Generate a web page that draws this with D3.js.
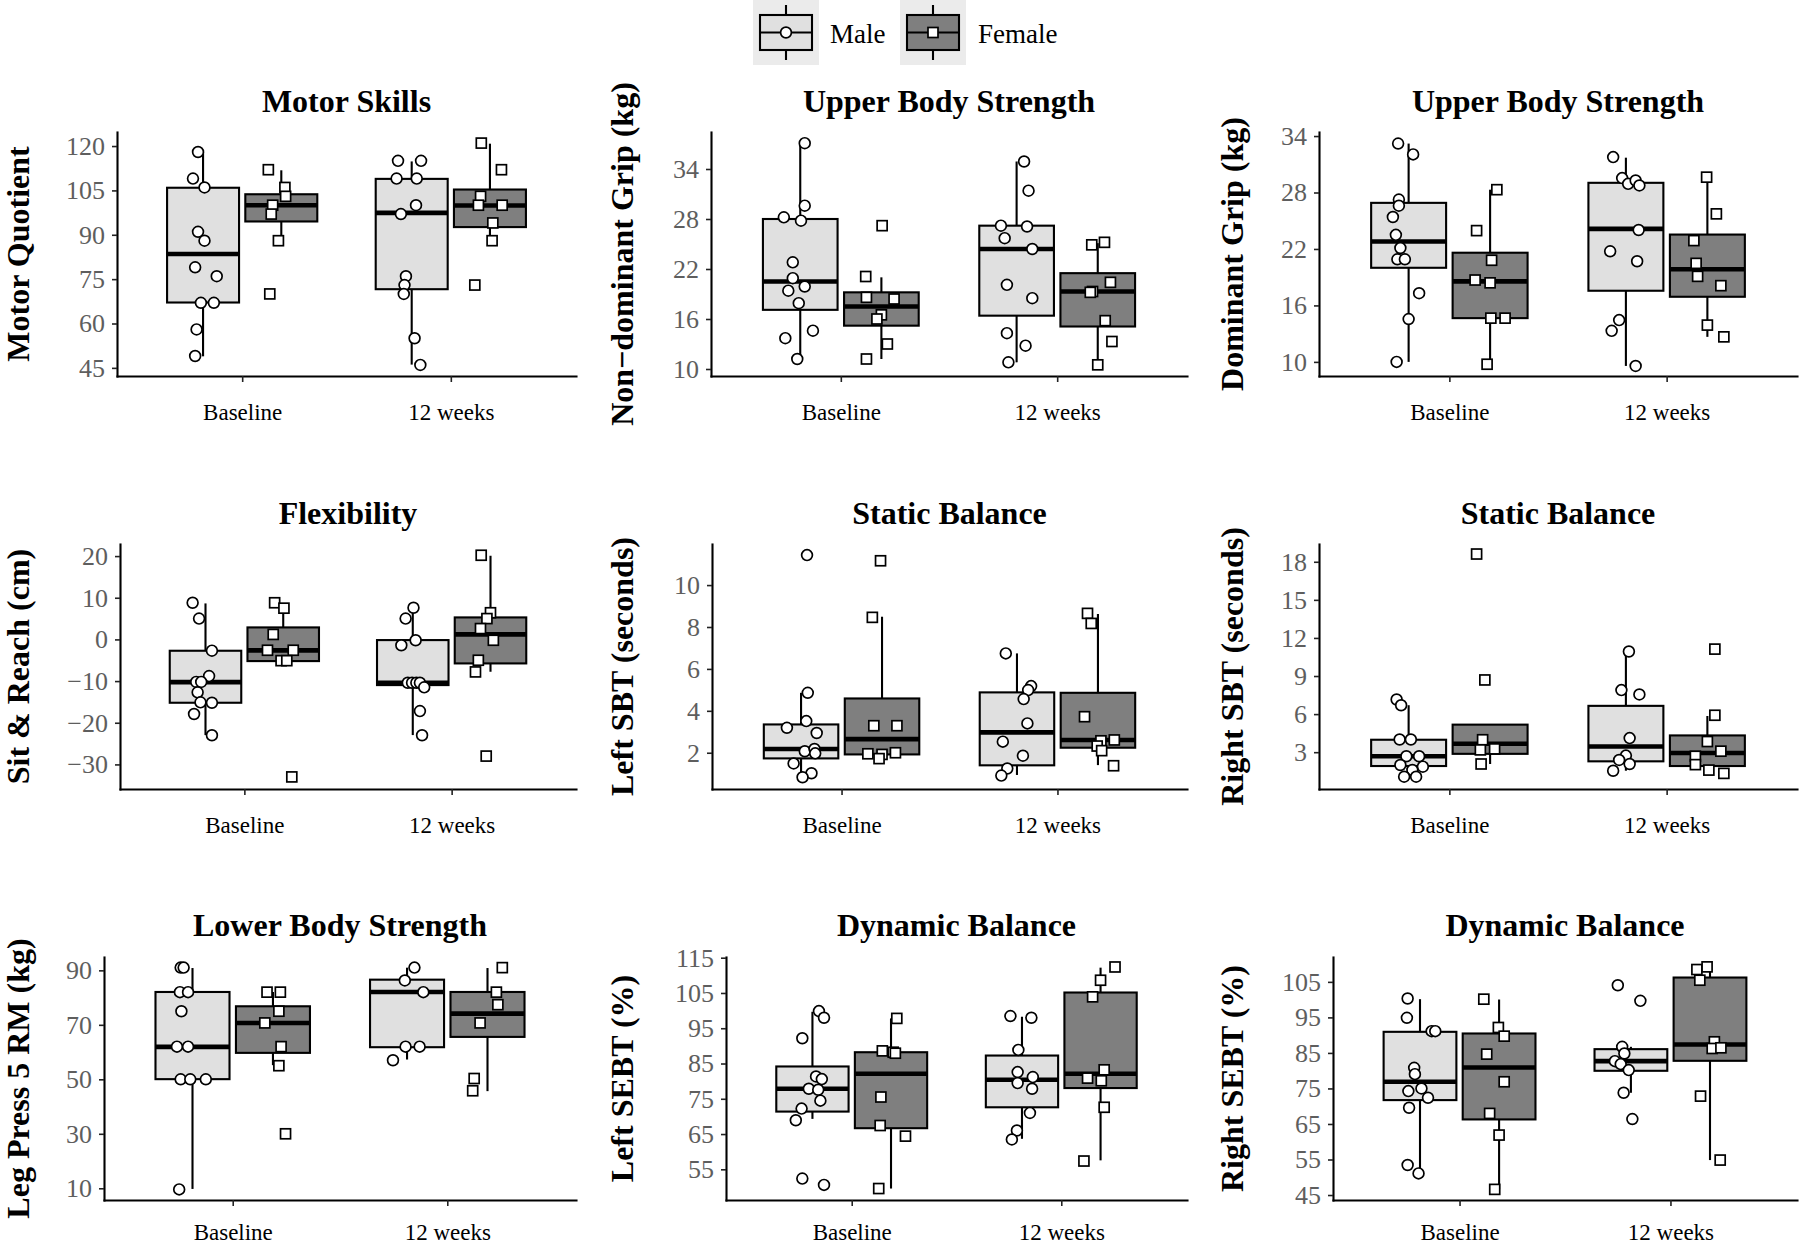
<!DOCTYPE html>
<html><head><meta charset="utf-8">
<script src="https://cdn.jsdelivr.net/npm/d3@7"></script>
<style>
body{margin:0;background:#fff}
svg{display:block}
text{font-family:"Liberation Serif","Times New Roman",serif}
</style>
</head><body><svg id="c" width="1800" height="1246"></svg>
<script>
// ---------- DATA ----------
const categories = ["Baseline", "12 weeks"];
const groups = ["Male", "Female"];
const panelTitles = ["Motor Skills","Upper Body Strength","Upper Body Strength","Flexibility","Static Balance","Static Balance","Lower Body Strength","Dynamic Balance","Dynamic Balance"];
const yLabels = ["Motor Quotient","Non\u2212dominant Grip (kg)","Dominant Grip (kg)","Sit & Reach (cm)","Left SBT (seconds)","Right SBT (seconds)","Leg Press 5 RM (kg)","Left SEBT (%)","Right SEBT (%)"];
const yDomains = [[42.25,124.75],[9.16,38.44],[8.5,34.43],[-35.9,22.9],[0.27,11.96],[0.1,19.4],[5.7,94.9],[46.3,115.2],[43.6,112]];
const yTicks = [[45,60,75,90,105,120],[10,16,22,28,34],[10,16,22,28,34],[-30,-20,-10,0,10,20],[2,4,6,8,10],[3,6,9,12,15,18],[10,30,50,70,90],[55,65,75,85,95,105,115],[45,55,65,75,85,95,105]];

// box stats per group [whiskerLow, Q1, median, Q3, whiskerHigh]; order: Male-Baseline, Female-Baseline, Male-12wk, Female-12wk
const motorBoxes = [[48.9,67.1,83.5,105.9,118],[88,94.5,100,103.7,111.8],[46.1,71.6,97.4,108.9,114.8],[88,92.6,99.9,105.3,120.8]];
const ndGripBoxes = [[11.2,17.1,20.5,28,37.1],[11.2,15.2,17.5,19.2,21],[10.8,16.4,24.4,27.2,34.9],[10.5,15.1,19.3,21.5,25.1]];
const dGripBoxes = [[10,20,22.8,26.9,33.2],[9.75,14.65,18.56,21.6,28.3],[9.57,17.56,24.13,29.03,31.7],[12.66,16.92,19.84,23.53,29.63]];
const flexBoxes = [[-22.96,-15.2,-10.24,-2.72,8.64],[-5.2,-5.2,-2.64,2.88,7.44],[-22.96,-10.96,-10.4,-0.16,7.6],[-7.76,-5.76,1.2,5.28,20.08]];
const lsbtBoxes = [[0.86,1.73,2.18,3.35,4.86],[1.68,1.92,2.65,4.59,8.49],[0.94,1.4,2.97,4.88,6.74],[1.41,2.24,2.61,4.86,8.62]];
const rsbtBoxes = [[0.96,1.91,2.68,3.98,6.7],[2.07,2.87,3.66,5.17,5.17],[1.54,2.28,3.45,6.65,10.93],[1.33,1.91,2.94,4.32,5.85]];
const legBoxes = [[9.76,50.06,61.9,82.06,90.85],[55.19,59.71,70.7,76.81,82.06],[57.27,61.79,82.06,86.58,90.98],[45.66,65.57,74.12,82.06,90.85]];
const lsebtBoxes = [[69.3,71.37,77.85,84.16,99.67],[49.55,66.66,82.09,88.2,97.79],[63.65,72.59,80.39,87.26,98.26],[57.54,78.04,82.09,105.13,112.18]];
const rsebtBoxes = [[51.09,71.72,76.88,90.94,100.13],[46.59,66.28,80.91,90.47,100.03],[73.78,79.97,82.69,86.06,86.72],[54.84,82.78,87.38,106.22,109.22]];

// individual points [value, jitter (fraction of box width)]; same group order
const motorPoints = [
 [[118,-.07],[109,-.14],[106,.02],[91,-.07],[88,.02],[79,-.11],[76,.19],[67,-.03],[67,.15],[58,-.09],[49,-.11]],
 [[112,-.18],[106,.05],[103,.06],[100,-.12],[97,-.14],[88,-.04],[70,-.16]],
 [[115,-.19],[115,.13],[109,-.21],[109,.07],[100,.06],[97,-.15],[76,-.08],[73,-.1],[70,-.11],[55,.04],[46,.12]],
 [[121,-.12],[112,.16],[103,-.13],[100,-.16],[100,.17],[94,.04],[88,.03],[73,-.21]]];
const ndGripPoints = [
 [[37.1,.06],[29.6,.06],[28.2,-.22],[27.8,.01],[22.8,-.1],[20.9,-.1],[19.9,.06],[19.4,-.16],[17.9,-.02],[14.6,.17],[13.7,-.2],[11.2,-.04]],
 [[27.2,.01],[21.1,-.21],[18.6,-.2],[18.4,.17],[16.5,0],[16,-.06],[13,.08],[11.2,-.2]],
 [[34.9,.1],[31.4,.16],[27.2,-.21],[27.1,.14],[25.7,-.16],[24.4,.21],[20.1,-.13],[18.5,.21],[14.3,-.13],[12.8,.12],[10.8,-.11]],
 [[24.9,-.08],[25.2,.09],[20.4,.17],[19.3,-.07],[19.2,-.1],[15.8,.1],[13.3,.19],[10.5,0]]];
const dGripPoints = [
 [[33.2,-.14],[32.05,.06],[27.25,-.13],[26.6,-.13],[25.4,-.21],[23.5,-.17],[22.1,-.11],[20.9,-.15],[20.9,-.05],[17.3,.14],[14.55,0],[10,-.16]],
 [[28.3,.09],[23.95,-.18],[20.8,.02],[18.7,-.2],[18.4,0],[14.65,.01],[14.65,.2],[9.75,-.04]],
 [[31.76,-.17],[29.53,-.05],[28.92,.03],[29.28,.13],[28.75,.18],[24.02,.17],[21.75,-.21],[20.69,.15],[14.44,-.09],[13.3,-.19],[9.57,.13]],
 [[29.63,-.01],[25.73,.12],[22.89,-.18],[20.47,-.15],[19.09,-.13],[18.1,.18],[13.91,0],[12.66,.22]]];
const flexPoints = [
 [[8.8,-.18],[5,-.09],[-2.7,.09],[-8.8,.05],[-10.2,-.13],[-10.2,-.06],[-12.7,-.11],[-15.1,-.07],[-15.2,.09],[-17.9,-.16],[-23,.09]],
 [[8.8,-.12],[7.5,.01],[1.2,-.14],[-2.6,-.22],[-2.6,.14],[-5.1,-.03],[-5.1,.05],[-33,.12]],
 [[7.6,.01],[5,-.1],[-0.2,.04],[-1.4,-.16],[-10.4,-.07],[-10.4,-.01],[-10.4,.05],[-10.4,.1],[-11.5,.16],[-17.2,.1],[-23,.13]],
 [[20.2,-.13],[6.4,0],[5,-.05],[2.6,-.14],[-0.2,.04],[-5,-.17],[-7.8,-.21],[-28,-.06]]];
const lsbtPoints = [
 [[11.43,.08],[4.86,.09],[3.51,.07],[3.19,-.19],[2.94,.21],[2.07,.05],[2.18,.18],[1.97,.19],[1.49,-.1],[1.02,.14],[0.83,.02]],
 [[11.16,-.02],[8.46,-.13],[3.29,-.11],[3.29,.2],[1.95,-.19],[1.92,0],[2,.18],[1.72,-.04]],
 [[6.74,-.15],[5.18,.19],[4.99,.15],[4.56,.09],[3.4,.14],[2.53,-.19],[1.86,.08],[1.25,-.13],[0.91,-.21]],
 [[8.65,-.14],[8.17,-.09],[3.72,-.18],[2.57,.04],[2.61,.22],[2.32,-.01],[2.1,.05],[1.38,.21]]];
const rsbtPoints = [
 [[7.15,-.16],[6.7,-.1],[4,-.12],[4,.03],[2.68,-.03],[2.68,.14],[1.99,-.11],[1.86,.19],[1.6,.05],[1.07,-.06],[1.07,.1]],
 [[18.61,-.18],[8.69,-.07],[3.98,-.1],[3.18,-.13],[3.26,.06],[2.07,-.12]],
 [[10.93,.04],[7.89,-.06],[7.55,.18],[4.11,.05],[2.73,0],[2.39,-.09],[2.07,.05],[1.54,-.17]],
 [[11.12,.1],[5.91,.1],[3.84,0],[3.08,.18],[2.68,-.16],[2.02,-.16],[1.59,.02],[1.33,.22]]];
const legPoints = [
 [[91,-.16],[91,-.12],[82,-.17],[82,-.06],[75,-.15],[62,-.21],[62,-.06],[50,-.16],[50,-.03],[50,.18],[9.6,-.18]],
 [[82,-.08],[82,.1],[75,.08],[70.7,-.11],[62,.11],[55,.08],[30,.17]],
 [[91,.1],[86.3,-.03],[82,.22],[62,-.02],[62,.17],[57,-.19]],
 [[91,.2],[82,.12],[77.4,.14],[70.7,-.1],[50.3,-.18],[45.8,-.2]]];
const lsebtPoints = [
 [[99.86,.09],[97.98,.16],[92.15,-.14],[81.33,.05],[80.58,.13],[77.85,-.05],[77.57,.08],[74.47,.11],[72.21,-.15],[68.92,-.23],[52.37,-.14],[50.58,.16]],
 [[97.79,.08],[88.58,-.12],[88.2,.03],[87.92,.06],[75.5,-.14],[67.42,-.15],[64.41,.2],[49.55,-.17]],
 [[98.45,-.16],[97.98,.13],[88.86,-.05],[82.56,-.06],[81.15,.15],[79.45,-.06],[77.85,.14],[70.99,.11],[66,-.07],[63.47,-.14]],
 [[112.37,.2],[108.61,0],[103.9,-.11],[83.21,.05],[80.86,-.18],[80.11,.01],[72.59,.05],[57.35,-.23]]];
const rsebtPoints = [
 [[100.31,-.17],[94.88,-.18],[91.13,.16],[91.13,.21],[80.81,-.08],[79.03,-.07],[74.25,-.16],[75,.02],[72.38,.11],[69.56,-.15],[53.44,-.17],[51.09,-.02]],
 [[100.13,-.21],[92.16,-.01],[89.72,.07],[84.66,-.17],[76.88,.07],[67.97,-.13],[61.88,0],[46.59,-.06]],
 [[104.06,-.18],[99.66,.13],[86.72,-.12],[84.84,-.09],[82.69,-.22],[81.84,-.14],[80.16,-.03],[73.78,-.1],[66.38,.02]],
 [[108.47,-.18],[109.22,-.04],[105.47,-.14],[88.13,.06],[86.25,.03],[86.44,.15],[72.84,-.13],[54.84,.14]]];

const panelBoxes = [motorBoxes, ndGripBoxes, dGripBoxes, flexBoxes, lsbtBoxes, rsbtBoxes, legBoxes, lsebtBoxes, rsebtBoxes];
const panelPoints = [motorPoints, ndGripPoints, dGripPoints, flexPoints, lsbtPoints, rsbtPoints, legPoints, lsebtPoints, rsebtPoints];

// ---------- LAYOUT ----------
const svg = d3.select("#c");
const rowTop = [132, 544, 957], rowBottom = [376, 789, 1200];
const panelLeft = [117, 711, 1319, 120, 712, 1319, 104, 726, 1333];
const colRight = [576, 1187, 1797];
const titleBase = [112, 524, 936];
const xLabelOffset = [44, 44, 40];
const yTitleX = [18, 622, 1232];
const fills = {Male: "#e0e0e0", Female: "#7f7f7f"};
const DODGE = 0.1875, BOXW = 0.345;
const LW = 2.1;
const FONT = '"Liberation Serif","Times New Roman",serif';

panelTitles.forEach((title, i) => {
  const r = Math.floor(i / 3), c = i % 3;
  const x = d3.scaleLinear().domain([0.4, 2.6]).range([panelLeft[i], colRight[c]]);
  const y = d3.scaleLinear().domain(yDomains[i]).range([rowBottom[r], rowTop[r]]);
  const g = svg.append("g");
  const hw = (x(BOXW) - x(0)) / 2;

  // boxes
  panelBoxes[i].forEach((b, k) => {
    const cat = Math.floor(k / 2) + 1, grp = groups[k % 2];
    const cx = x(cat + (k % 2 ? DODGE : -DODGE));
    const bg = g.append("g");
    bg.append("line").attr("x1", cx).attr("x2", cx).attr("y1", y(b[3])).attr("y2", y(b[4]))
      .attr("stroke", "#000").attr("stroke-width", LW);
    bg.append("line").attr("x1", cx).attr("x2", cx).attr("y1", y(b[1])).attr("y2", y(b[0]))
      .attr("stroke", "#000").attr("stroke-width", LW);
    bg.append("rect").attr("x", cx - hw).attr("width", 2 * hw)
      .attr("y", y(b[3])).attr("height", y(b[1]) - y(b[3]))
      .attr("fill", fills[grp]).attr("stroke", "#000").attr("stroke-width", LW);
    bg.append("line").attr("x1", cx - hw).attr("x2", cx + hw).attr("y1", y(b[2])).attr("y2", y(b[2]))
      .attr("stroke", "#000").attr("stroke-width", 4.6);
  });

  // points
  panelPoints[i].forEach((pts, k) => {
    const cat = Math.floor(k / 2) + 1, grp = groups[k % 2];
    const cx = x(cat + (k % 2 ? DODGE : -DODGE));
    pts.forEach(([v, j]) => {
      const px = cx + j * 2 * hw, py = y(v);
      if (grp === "Male") {
        g.append("circle").attr("cx", px).attr("cy", py).attr("r", 5.4)
          .attr("fill", "#fff").attr("stroke", "#000").attr("stroke-width", 1.7);
      } else {
        g.append("rect").attr("x", px - 5).attr("y", py - 5).attr("width", 10).attr("height", 10)
          .attr("fill", "#fff").attr("stroke", "#000").attr("stroke-width", 1.7);
      }
    });
  });

  // axes
  const ya = g.append("g").attr("transform", `translate(${panelLeft[i]},0)`)
    .call(d3.axisLeft(y).tickValues(yTicks[i]).tickSize(5).tickPadding(7).tickSizeOuter(0));
  ya.select(".domain").attr("stroke-width", LW).attr("stroke-linecap", "square");
  ya.selectAll(".tick line").attr("stroke-width", 1.6).attr("stroke", "#222");
  ya.selectAll(".tick text").attr("font-size", 26).attr("fill", "#5e5e5e").attr("font-family", FONT);

  const xa = g.append("g").attr("transform", `translate(0,${rowBottom[r]})`)
    .call(d3.axisBottom(x).tickValues([1, 2]).tickFormat(d => categories[d - 1]).tickSize(6).tickSizeOuter(0));
  xa.select(".domain").attr("stroke-width", LW).attr("stroke-linecap", "square");
  xa.selectAll(".tick line").attr("stroke-width", 1.6).attr("stroke", "#222");
  xa.selectAll(".tick text").attr("font-size", 23).attr("fill", "#000").attr("y", xLabelOffset[r]).attr("dy", 0)
    .attr("font-family", FONT);

  // titles
  g.append("text").attr("x", (panelLeft[i] + colRight[c]) / 2).attr("y", titleBase[r])
    .attr("text-anchor", "middle").attr("font-size", 32).attr("font-weight", "bold").text(title);
  g.append("text").attr("transform", `translate(${yTitleX[c]},${(rowTop[r] + rowBottom[r]) / 2}) rotate(-90)`)
    .attr("text-anchor", "middle").attr("dominant-baseline", "central")
    .attr("font-size", 32).attr("font-weight", "bold").text(yLabels[i]);
});

// ---------- LEGEND ----------
const legendX = [753, 900], legendTextX = [830, 978];
groups.forEach((grp, k) => {
  const lg = svg.append("g").attr("transform", `translate(${legendX[k]},0)`);
  lg.append("rect").attr("x", 0).attr("y", 0).attr("width", 66).attr("height", 65).attr("fill", "#ebebeb");
  const cx = 33;
  lg.append("line").attr("x1", cx).attr("x2", cx).attr("y1", 5).attr("y2", 60).attr("stroke", "#000").attr("stroke-width", LW);
  lg.append("rect").attr("x", 7).attr("y", 15).attr("width", 52).attr("height", 35)
    .attr("fill", fills[grp]).attr("stroke", "#000").attr("stroke-width", LW);
  lg.append("line").attr("x1", 7).attr("x2", 59).attr("y1", 32.5).attr("y2", 32.5).attr("stroke", "#000").attr("stroke-width", LW);
  if (grp === "Male") {
    lg.append("circle").attr("cx", cx).attr("cy", 32.5).attr("r", 5.4).attr("fill", "#fff").attr("stroke", "#000").attr("stroke-width", 1.7);
  } else {
    lg.append("rect").attr("x", cx - 5).attr("y", 27.5).attr("width", 10).attr("height", 10).attr("fill", "#fff").attr("stroke", "#000").attr("stroke-width", 1.7);
  }
  svg.append("text").attr("x", legendTextX[k]).attr("y", 43).attr("font-size", 27).text(grp);
});
</script>
</body></html>
